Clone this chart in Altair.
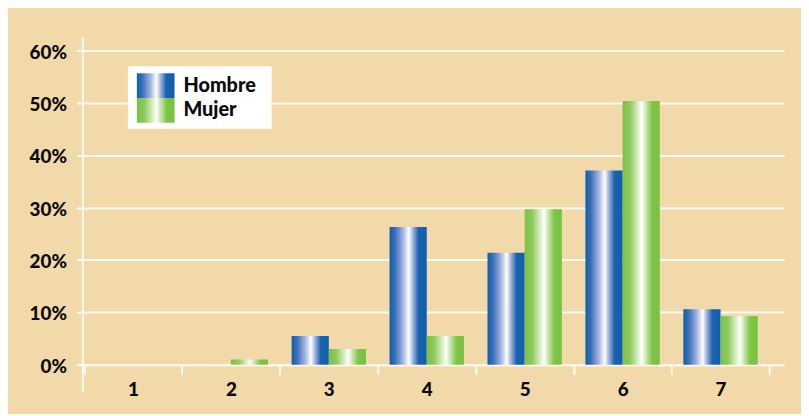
import altair as alt
import pandas as pd

# ---- data ----
categorias = ["1", "2", "3", "4", "5", "6", "7"]
series = ["Hombre", "Mujer"]
hombre = [0.0, 0.0, 5.5, 26.3, 21.4, 37.1, 10.6]
mujer = [0.0, 1.0, 3.0, 5.5, 29.7, 50.4, 9.3]
y_ticks = [0, 10, 20, 30, 40, 50, 60]

rows = []
for c, h, m in zip(categorias, hombre, mujer):
    rows.append({"categoria": c, "serie": series[0], "valor": h})
    rows.append({"categoria": c, "serie": series[1], "valor": m})
df = pd.DataFrame(rows)

BG = "#f2d9a9"
GRID = "#fffaf0"
FONT = "Lato"
INK = "#0a0a0a"

blue_grad = alt.Gradient(
    gradient="linear", x1=0, x2=1, y1=0, y2=0,
    stops=[
        alt.GradientStop(offset=0.0, color="#0d5fad"),
        alt.GradientStop(offset=0.15, color="#3c6fb9"),
        alt.GradientStop(offset=0.36, color="#a3b3df"),
        alt.GradientStop(offset=0.52, color="#ffffff"),
        alt.GradientStop(offset=0.62, color="#a8b8e0"),
        alt.GradientStop(offset=0.78, color="#1a63b0"),
        alt.GradientStop(offset=1.0, color="#0d5fad"),
    ],
)
green_grad = alt.Gradient(
    gradient="linear", x1=0, x2=1, y1=0, y2=0,
    stops=[
        alt.GradientStop(offset=0.0, color="#7ac143"),
        alt.GradientStop(offset=0.2, color="#8fc95e"),
        alt.GradientStop(offset=0.38, color="#cde8b3"),
        alt.GradientStop(offset=0.52, color="#ffffff"),
        alt.GradientStop(offset=0.63, color="#c8e6ae"),
        alt.GradientStop(offset=0.8, color="#7ec445"),
        alt.GradientStop(offset=1.0, color="#7ac143"),
    ],
)
grads = [blue_grad, green_grad]

x_enc = alt.X(
    "categoria:N",
    sort=categorias,
    title=None,
    scale=alt.Scale(paddingInner=0, paddingOuter=0.083, align=0.1),
    axis=alt.Axis(
        labelAngle=0, labelFont=FONT, labelFontSize=19, labelFontWeight=900,
        labelColor=INK, labelPadding=6,
        domainColor=GRID, domainWidth=2,
        tickColor=GRID, tickWidth=2, tickSize=10, tickBand="extent",
        offset=-27, grid=False,
    ),
)
xo_enc = alt.XOffset(
    "serie:N",
    scale=alt.Scale(domain=series, paddingInner=0, paddingOuter=0.317),
)
y_enc = alt.Y(
    "valor:Q",
    title=None,
    scale=alt.Scale(domain=[-5.1, 62.7], nice=False, zero=False),
    axis=alt.Axis(
        values=y_ticks, labelExpr="datum.value + '%'",
        labelFont=FONT, labelFontSize=19, labelFontWeight=900,
        labelColor=INK, labelPadding=10, labelBaseline="middle",
        labelOffset=1.5,
        domainColor=GRID, domainWidth=2,
        tickColor=GRID, tickWidth=2, tickSize=6,
        grid=True, gridColor=GRID, gridWidth=2, gridOpacity=1,
    ),
)

base = alt.Chart(df)
bar_layers = []
for s, g in zip(series, grads):
    bar_layers.append(
        base.transform_filter(alt.datum.serie == s)
        .mark_bar(fill=g, stroke=None)
        .encode(x=x_enc, xOffset=xo_enc, y=y_enc)
    )

# ---- legend (custom, to show gradient swatches) ----
leg_df = pd.DataFrame({"serie": series})
leg_box = alt.Chart(leg_df).transform_filter(alt.datum.serie == series[0]).mark_rect(
    fill="white"
).encode(x=alt.value(46), x2=alt.value(191), y=alt.value(30), y2=alt.value(93))

leg_layers = [leg_box]
for i, (s, g) in enumerate(zip(series, grads)):
    leg_layers.append(
        alt.Chart(leg_df).transform_filter(alt.datum.serie == s)
        .mark_rect(fill=g)
        .encode(x=alt.value(55), x2=alt.value(93),
                y=alt.value(37 + 25 * i), y2=alt.value(62 + 25 * i))
    )
    leg_layers.append(
        alt.Chart(leg_df).transform_filter(alt.datum.serie == s)
        .mark_text(align="left", baseline="alphabetic", font=FONT,
                   fontSize=20, fontWeight=900, color=INK)
        .encode(x=alt.value(102), y=alt.value(56 + 24.5 * i), text="serie:N")
    )

chart = (
    alt.layer(*bar_layers, *leg_layers)
    .properties(
        width=708,
        height=358,
        autosize=alt.AutoSizeParams(type="none"),
        padding={"left": 75, "top": 27, "right": 17, "bottom": 21},
        background=BG,
    )
    .configure_view(stroke=None, fill=BG)
)

chart.save("out.html", embed_options={"renderer": "svg", "actions": False})
